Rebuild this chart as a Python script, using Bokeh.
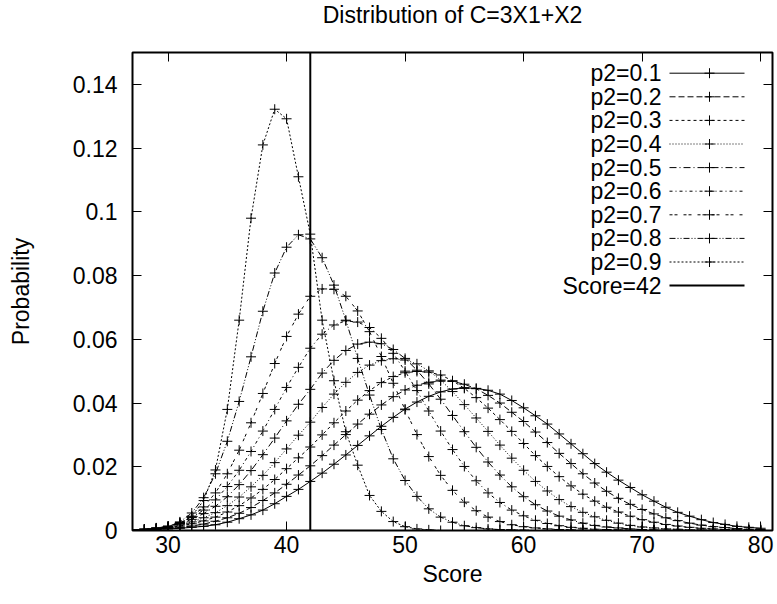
from bokeh.plotting import figure
from bokeh.models import Range1d, LinearAxis, FixedTicker, CustomJSTickFormatter, Span
from bokeh.core.properties import value
from bokeh.embed import file_html
from bokeh.resources import INLINE

# ---------------- data ----------------
scores = list(range(27, 81))
series_labels = ["p2=0.1", "p2=0.2", "p2=0.3", "p2=0.4", "p2=0.5",
                 "p2=0.6", "p2=0.7", "p2=0.8", "p2=0.9"]
threshold = 42
x_ticks = [30, 40, 50, 60, 70, 80]
y_ticks = [0, 0.02, 0.04, 0.06, 0.08, 0.1, 0.12, 0.14]
title_text = "Distribution of C=3X1+X2"

prob_01 = [0.0001, 0.0002, 0.0003, 0.0005, 0.0007, 0.0010, 0.0013, 0.0018, 0.0026, 0.0037,
           0.0049, 0.0064, 0.0084, 0.0107, 0.0129, 0.0154, 0.0180, 0.0208, 0.0237, 0.0267,
           0.0297, 0.0327, 0.0355, 0.0381, 0.0403, 0.0421, 0.0435, 0.0444, 0.0448, 0.0446,
           0.0440, 0.0428, 0.0408, 0.0385, 0.0360, 0.0334, 0.0303, 0.0272, 0.0241, 0.0210,
           0.0183, 0.0158, 0.0135, 0.0112, 0.0092, 0.0073, 0.0057, 0.0045, 0.0034, 0.0025,
           0.0019, 0.0013, 0.0010, 0.0007]
prob_02 = [0.0002, 0.0003, 0.0005, 0.0007, 0.0010, 0.0014, 0.0020, 0.0029, 0.0040, 0.0054,
           0.0072, 0.0094, 0.0118, 0.0145, 0.0174, 0.0203, 0.0235, 0.0268, 0.0301, 0.0334,
           0.0365, 0.0394, 0.0420, 0.0441, 0.0456, 0.0465, 0.0469, 0.0468, 0.0459, 0.0445,
           0.0424, 0.0400, 0.0371, 0.0342, 0.0309, 0.0276, 0.0242, 0.0210, 0.0178, 0.0149,
           0.0123, 0.0101, 0.0082, 0.0066, 0.0052, 0.0040, 0.0031, 0.0023, 0.0017, 0.0012,
           0.0009, 0.0006, 0.0004, 0.0003]
prob_03 = [0.0002, 0.0004, 0.0006, 0.0009, 0.0014, 0.0021, 0.0030, 0.0042, 0.0058, 0.0078,
           0.0102, 0.0129, 0.0160, 0.0194, 0.0228, 0.0262, 0.0300, 0.0338, 0.0375, 0.0409,
           0.0439, 0.0464, 0.0483, 0.0495, 0.0499, 0.0497, 0.0488, 0.0470, 0.0446, 0.0417,
           0.0384, 0.0348, 0.0311, 0.0273, 0.0235, 0.0201, 0.0169, 0.0140, 0.0114, 0.0092,
           0.0073, 0.0058, 0.0045, 0.0034, 0.0026, 0.0019, 0.0014, 0.0010, 0.0007, 0.0005,
           0.0003, 0.0002, 0.0002, 0.0001]
prob_04 = [0.0002, 0.0004, 0.0007, 0.0011, 0.0018, 0.0027, 0.0040, 0.0056, 0.0078, 0.0105,
           0.0137, 0.0173, 0.0213, 0.0256, 0.0299, 0.0340, 0.0386, 0.0428, 0.0465, 0.0496,
           0.0519, 0.0533, 0.0539, 0.0535, 0.0523, 0.0501, 0.0472, 0.0436, 0.0395, 0.0353,
           0.0311, 0.0268, 0.0227, 0.0189, 0.0154, 0.0124, 0.0097, 0.0075, 0.0057, 0.0043,
           0.0032, 0.0023, 0.0016, 0.0011, 0.0008, 0.0005, 0.0004, 0.0002, 0.0002, 0.0001,
           0.0001, 0.0001, 0.0000, 0.0000]
prob_05 = [0.0002, 0.0004, 0.0008, 0.0013, 0.0022, 0.0035, 0.0053, 0.0076, 0.0106, 0.0144,
           0.0188, 0.0238, 0.0290, 0.0344, 0.0396, 0.0443, 0.0494, 0.0534, 0.0565, 0.0585,
           0.0591, 0.0586, 0.0568, 0.0540, 0.0503, 0.0460, 0.0412, 0.0361, 0.0310, 0.0261,
           0.0215, 0.0174, 0.0137, 0.0106, 0.0081, 0.0061, 0.0045, 0.0033, 0.0023, 0.0016,
           0.0011, 0.0008, 0.0005, 0.0003, 0.0002, 0.0001, 0.0001, 0.0000, 0.0000, 0.0000,
           0.0000, 0.0000, 0.0000, 0.0000]
prob_06 = [0.0002, 0.0004, 0.0008, 0.0014, 0.0025, 0.0041, 0.0064, 0.0096, 0.0138, 0.0189,
           0.0248, 0.0312, 0.0380, 0.0449, 0.0512, 0.0572, 0.0616, 0.0645, 0.0658, 0.0654,
           0.0637, 0.0603, 0.0556, 0.0500, 0.0439, 0.0375, 0.0312, 0.0254, 0.0201, 0.0156,
           0.0118, 0.0088, 0.0064, 0.0046, 0.0032, 0.0022, 0.0015, 0.0010, 0.0007, 0.0004,
           0.0003, 0.0002, 0.0001, 0.0000, 0.0000, 0.0000, 0.0000, 0.0000, 0.0000, 0.0000,
           0.0000, 0.0000, 0.0000, 0.0000]
prob_07 = [0.0001, 0.0003, 0.0006, 0.0012, 0.0024, 0.0043, 0.0074, 0.0118, 0.0178, 0.0252,
           0.0338, 0.0430, 0.0524, 0.0609, 0.0679, 0.0735, 0.0758, 0.0757, 0.0735, 0.0689,
           0.0624, 0.0546, 0.0462, 0.0379, 0.0301, 0.0232, 0.0173, 0.0126, 0.0089, 0.0062,
           0.0042, 0.0028, 0.0018, 0.0012, 0.0008, 0.0005, 0.0003, 0.0002, 0.0001, 0.0000,
           0.0000, 0.0000, 0.0000, 0.0000, 0.0000, 0.0000, 0.0000, 0.0000, 0.0000, 0.0000,
           0.0000, 0.0000, 0.0000, 0.0000]
prob_08 = [0.0001, 0.0002, 0.0005, 0.0012, 0.0027, 0.0055, 0.0103, 0.0178, 0.0280, 0.0405,
           0.0545, 0.0688, 0.0808, 0.0889, 0.0928, 0.0915, 0.0856, 0.0770, 0.0660, 0.0540,
           0.0425, 0.0317, 0.0225, 0.0157, 0.0107, 0.0068, 0.0042, 0.0026, 0.0015, 0.0009,
           0.0005, 0.0003, 0.0002, 0.0001, 0.0000, 0.0000, 0.0000, 0.0000, 0.0000, 0.0000,
           0.0000, 0.0000, 0.0000, 0.0000, 0.0000, 0.0000, 0.0000, 0.0000, 0.0000, 0.0000,
           0.0000, 0.0000, 0.0000, 0.0000]
prob_09 = [0.0001, 0.0002, 0.0004, 0.0009, 0.0021, 0.0045, 0.0094, 0.0190, 0.0380, 0.0660,
           0.0980, 0.1210, 0.1322, 0.1292, 0.1110, 0.0930, 0.0660, 0.0470, 0.0310, 0.0205,
           0.0110, 0.0060, 0.0028, 0.0012, 0.0005, 0.0002, 0.0000, 0.0000, 0.0000, 0.0000,
           0.0000, 0.0000, 0.0000, 0.0000, 0.0000, 0.0000, 0.0000, 0.0000, 0.0000, 0.0000,
           0.0000, 0.0000, 0.0000, 0.0000, 0.0000, 0.0000, 0.0000, 0.0000, 0.0000, 0.0000,
           0.0000, 0.0000, 0.0000, 0.0000]

series = [prob_01, prob_02, prob_03, prob_04, prob_05, prob_06, prob_07, prob_08, prob_09]

# ---------------- styles / layout ----------------
dashes = ["solid", "6 3", "3 3", "1 2", "7 3 1 3", "3 3 1 3", "3 2 3 6", "6 2 1 2 1 2", "2 2"]
FONT = "Liberation Sans"
FS = "23px"

X0, X1 = 27, 81
Y0, Y1 = 0, 0.15
W, H = 777, 604
ML, MR, MT, MB = 132, 5, 52, 74

p = figure(width=W, height=H, x_range=Range1d(X0, X1), y_range=Range1d(Y0, Y1),
           output_backend="svg", toolbar_location=None,
           min_border_left=ML, min_border_right=MR, min_border_top=MT, min_border_bottom=MB)

# title: an empty second line lifts the text to the top of the margin (as in the original)
p.title.text = title_text + "\n "
p.title.align = "center"
p.title.vertical_align = "top"
p.title.text_font = FONT
p.title.text_font_size = FS
p.title.text_font_style = "normal"
p.title.text_color = "black"
p.title.text_line_height = 0.9
p.title.standoff = 0

p.grid.visible = False
p.background_fill_color = "white"
p.border_fill_color = "white"
p.outline_line_color = "black"
p.outline_line_width = 2
p.outline_line_alpha = 1.0

fmt = CustomJSTickFormatter(code="return Number(tick.toFixed(2)).toString();")

for ax in p.xaxis:
    ax.ticker = FixedTicker(ticks=x_ticks)
    ax.axis_label = "Score"
for ax in p.yaxis:
    ax.ticker = FixedTicker(ticks=y_ticks)
    ax.formatter = fmt
    ax.axis_label = "Probability"

blank = CustomJSTickFormatter(code="return '';")
top_axis = LinearAxis(ticker=FixedTicker(ticks=x_ticks), formatter=blank,
                      major_label_standoff=0, major_label_text_font_size="0px")
right_axis = LinearAxis(ticker=FixedTicker(ticks=y_ticks), formatter=blank,
                        major_label_standoff=0, major_label_text_font_size="0px")
p.add_layout(top_axis, "above")
p.add_layout(right_axis, "right")

for ax in list(p.xaxis) + list(p.yaxis) + [top_axis, right_axis]:
    ax.major_tick_in = 9
    ax.major_tick_out = 0
    ax.major_tick_line_color = "black"
    ax.major_tick_line_width = 1
    ax.minor_tick_line_color = None
    ax.axis_line_color = None
    ax.axis_label_text_font = FONT
    ax.axis_label_text_font_size = FS
    ax.axis_label_text_font_style = "normal"
    ax.axis_label_text_color = "black"

for ax in list(p.xaxis) + list(p.yaxis):
    ax.major_label_text_font = FONT
    ax.major_label_text_font_size = FS
    ax.major_label_text_color = "black"

p.xaxis[0].major_label_standoff = 14
p.xaxis[0].axis_label_standoff = 8
p.yaxis[0].major_label_standoff = 15
p.yaxis[0].axis_label_standoff = 36

# ---------------- curves ----------------
for vals, dash in zip(series, dashes):
    p.line(scores, vals, line_color="black", line_width=1, line_dash=dash)
    p.scatter(scores, vals, marker="cross", size=10, line_color="black", line_width=1)

p.add_layout(Span(location=threshold, dimension="height", line_color="black", line_width=2))

# ---------------- legend (gnuplot style: text, then sample) ----------------
FX0, FX1 = ML, W - MR       # frame left/right in page px
FY0, FY1 = MT, H - MB       # frame top/bottom in page px


def px_x(px):
    return X0 + (px - FX0) / (FX1 - FX0) * (X1 - X0)


def px_y(py):
    return Y1 - (py - FY0) / (FY1 - FY0) * (Y1 - Y0)


legend_labels = series_labels + [f"Score={threshold}"]
row_y = [px_y(72.7 + 23.6 * i) for i in range(len(legend_labels))]
text_x = px_x(FX1 - 111)
samp_x0 = px_x(FX1 - 103)
samp_x1 = px_x(FX1 - 28)
mark_x = px_x(FX1 - 63)

p.text(x=[text_x] * len(legend_labels), y=row_y, text=legend_labels,
       text_align="right", text_baseline="middle",
       text_font=value(FONT), text_font_size=FS, text_color="black")

for i, dash in enumerate(dashes):
    p.line([samp_x0, samp_x1], [row_y[i], row_y[i]], line_color="black",
           line_width=1, line_dash=dash)
    p.scatter([mark_x], [row_y[i]], marker="cross", size=10, line_color="black", line_width=1)
p.line([samp_x0, samp_x1], [row_y[-1], row_y[-1]], line_color="black", line_width=2)

open("out.html", "w").write(file_html(p, INLINE))
